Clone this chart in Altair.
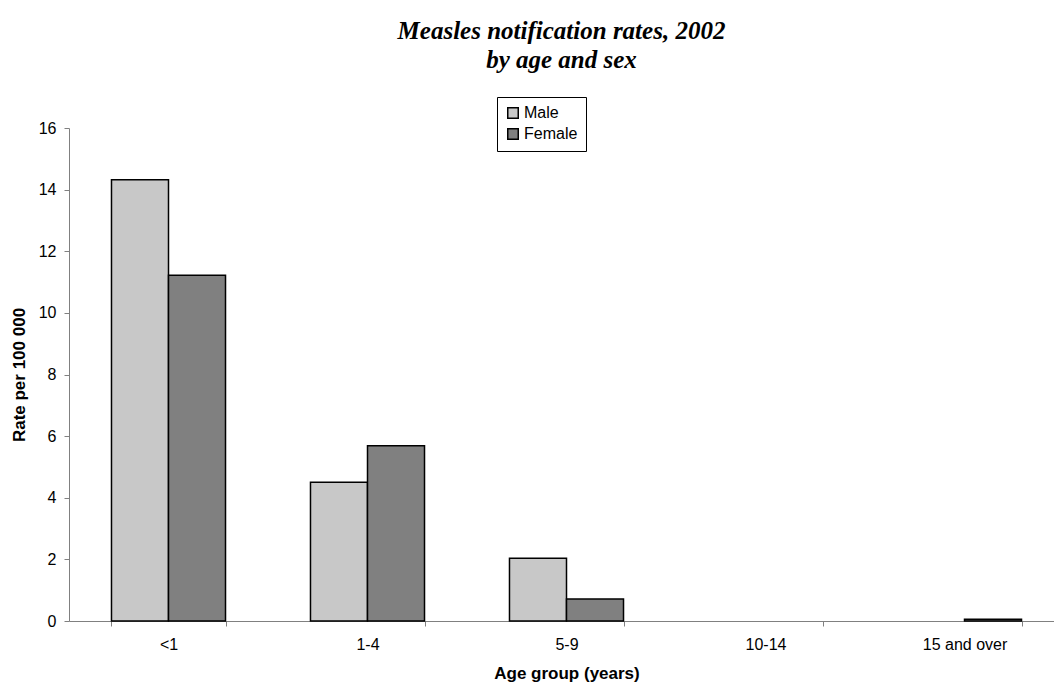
import altair as alt
import pandas as pd

ages = ["<1", "1-4", "5-9", "10-14", "15 and over"]
male = [14.32, 4.50, 2.04, 0.0, 0.0]
female = [11.22, 5.69, 0.71, 0.0, 0.06]
sexes = ["Male", "Female"]
colors = ["#C8C8C8", "#808080"]

rows = []
for a, m, f in zip(ages, male, female):
    rows.append({"Age": a, "Sex": "Male", "Rate": m})
    rows.append({"Age": a, "Sex": "Female", "Rate": f})
df = pd.DataFrame(rows)
df = df[df["Rate"] > 0]

font = "Liberation Sans"
fs = 16
tfs = 17

chart = alt.Chart(df).mark_bar(stroke="black", strokeWidth=1.5).encode(
    x=alt.X("Age:N", sort=ages,
            scale=alt.Scale(domain=ages, paddingInner=0.427, paddingOuter=0.2135, range=[0, 995]),
            axis=alt.Axis(title="Age group (years)", labelAngle=0, tickBand="extent",
                          labelFont=font, labelFontSize=fs, labelColor="black",
                          titleFont=font, titleFontSize=tfs, titleFontWeight="bold", titleColor="black",
                          domainColor="#808080", tickColor="#808080", tickSize=5,
                          labelPadding=10, titlePadding=13)),
    xOffset=alt.XOffset("Sex:N", sort=sexes, scale=alt.Scale(domain=sexes)),
    y=alt.Y("Rate:Q", scale=alt.Scale(domain=[0, 16], nice=False),
            axis=alt.Axis(title="Rate per 100 000", values=[0, 2, 4, 6, 8, 10, 12, 14, 16],
                          grid=False, labelFont=font, labelFontSize=fs, labelColor="black",
                          titleFont=font, titleFontSize=tfs, titleFontWeight="bold", titleColor="black",
                          domainColor="#808080", tickColor="#808080", tickSize=5,
                          labelPadding=8, titlePadding=10)),
    color=alt.Color("Sex:N", sort=sexes, scale=alt.Scale(domain=sexes, range=colors),
                    legend=alt.Legend(title=None, orient="none", legendX=428, legendY=-31,
                                      symbolType="square", symbolSize=110, symbolStrokeColor="black",
                                      symbolStrokeWidth=1.5, symbolOpacity=1,
                                      labelFont=font, labelFontSize=fs, labelColor="black",
                                      fillColor="white", strokeColor="black", padding=8,
                                      rowPadding=3, labelOffset=3, labelLimit=200)),
).properties(
    width=985, height=493,
    padding={"left": 69, "top": 128, "right": 0, "bottom": 62},
    autosize=alt.AutoSizeParams(type="none"),
    background="white",
    title=alt.TitleParams(text=["Measles notification rates, 2002", "by age and sex"],
                          font="Liberation Serif", fontSize=25, fontStyle="italic",
                          fontWeight="bold", anchor="middle", color="black",
                          lineHeight=29, offset=24),
).configure_view(strokeWidth=0, stroke="transparent")

chart.save("out.html", embed_options={"renderer": "svg", "actions": False})
